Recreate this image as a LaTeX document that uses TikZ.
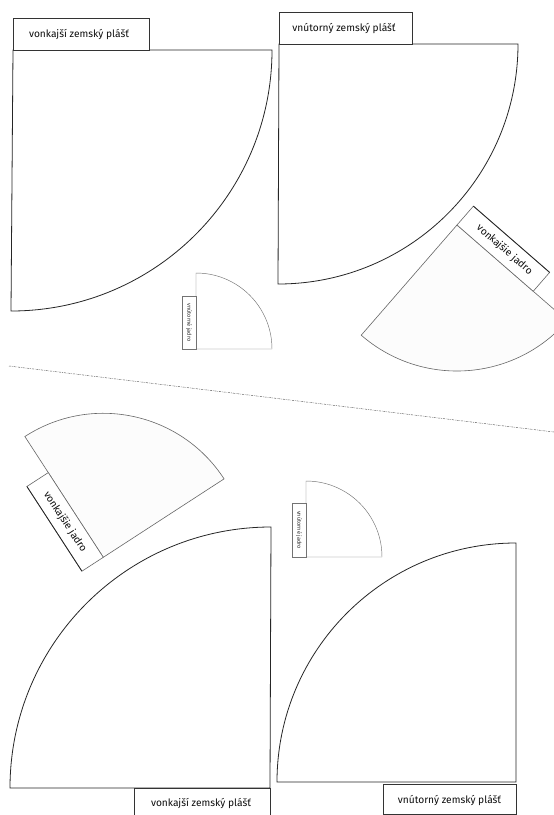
\documentclass[tikz,border=0pt]{standalone}
\usepackage{fontspec}
\setmainfont{Fira Sans}
\usetikzlibrary{calc}
\begin{document}
\begin{tikzpicture}[x=1pt,y=-1pt,
  bigpiece/.style={draw=black!85,line width=0.8pt,fill=white},
  biglabel/.style={draw=black!80,line width=0.8pt,fill=white},
  smallpiece/.style={draw=black!55,line width=0.45pt,fill=white},
  jadro/.style={draw=black!60,line width=0.6pt,fill=black!1},
  lbl/.style={font=\fontsize{10.2}{12}\selectfont,text=black!95,inner sep=0pt},
  tinylbl/.style={font=\fontsize{5.6}{6}\selectfont,text=black!85,inner sep=0pt},
  cutline/.style={draw=black!60,line width=0.5pt,dash pattern=on 2pt off 1pt on 0.6pt off 1pt}]
\useasboundingbox (0,0) rectangle (554,815);
\fill[white] (0,0) rectangle (554,815);

% cut line
\coordinate (cutA) at (9,366);
\coordinate (cutB) at (554,432);
\draw[cutline] (cutA) -- (cutB);

% ---------- top left: vonkajsi zemsky plast ----------
\coordinate (c1) at (13,50);
\draw[bigpiece] (c1) -- ++(0:259) arc[start angle=0,end angle=90,radius=261] -- cycle;
\draw[biglabel] (13,18) rectangle (149,50);
\node[lbl] (l1) at (79,34) {vonkajší zemský plášť};

% ---------- top right: vnutorny zemsky plast ----------
\coordinate (c2) at (279,44);
\draw[bigpiece] (c2) -- ++(0:239) arc[start angle=0,end angle=90,radius=240] -- cycle;
\draw[biglabel] (279,12) rectangle (412,44);
\node[lbl] (l2) at (344,28) {vnútorný zemský plášť};

% ---------- small top: vnutorne jadro ----------
\coordinate (c3) at (196,349);
\draw[smallpiece] (c3) -- ++(-90:76) arc[start angle=-90,end angle=0,radius=76] -- cycle;
\draw[smallpiece] (182,296) rectangle (196,349);
\node[tinylbl,rotate=-90] (l3) at (189,322.5) {vnútorné jadro};

% ---------- small bottom: vnutorne jadro ----------
\coordinate (c4) at (306,557);
\draw[smallpiece] (c4) -- ++(-90:76) arc[start angle=-90,end angle=0,radius=76] -- cycle;
\draw[smallpiece] (292,503) rectangle (306,557);
\node[tinylbl,rotate=-90] (l4) at (299,530) {vnútorné jadro};

% ---------- top right rotated: vonkajsie jadro ----------
\coordinate (A) at (457,225);
\draw[jadro] (A) -- ++(131:146) arc[start angle=131,end angle=41,radius=146] -- cycle;
\coordinate (A1) at ($(A)+(41:101)$);
\coordinate (A2) at ($(A)+(-49:25)$);
\coordinate (A3) at ($(A1)+(-49:25)$);
\draw[jadro,fill=white] (A) -- (A1) -- (A3) -- (A2) -- cycle;
\draw[black!85,line width=0.8pt] (A2) -- (A3);
\node[lbl,rotate=-41] (l5) at ($(A)+(41:52)+(-49:12.5)$) {vonkajšie jadro};

% ---------- bottom left rotated: vonkajsie jadro ----------
\coordinate (B) at (103.3,557.3);
\draw[jadro] (B) -- ++(-123:144) arc[start angle=-123,end angle=-33,radius=144] -- cycle;
\coordinate (B1) at ($(B)+(-123:101)$);
\coordinate (B2) at ($(B)+(147:25.5)$);
\coordinate (B3) at ($(B1)+(147:25.5)$);
\draw[jadro,fill=white] (B) -- (B1) -- (B3) -- (B2) -- cycle;
\draw[black!85,line width=0.8pt] (B3) -- (B2);
\node[lbl,rotate=-57] (l6) at ($(B)+(-123:50.5)+(147:12.75)$) {vonkajšie jadro};

% ---------- bottom left: vonkajsi zemsky plast ----------
\coordinate (c5) at (270,788);
\draw[bigpiece] (c5) -- ++(180:260) arc[start angle=180,end angle=270,radius=261] -- cycle;
\draw[biglabel] (134,788) rectangle (270,822);
\node[lbl] (l7) at (201,803) {vonkajší zemský plášť};

% ---------- bottom right: vnutorny zemsky plast ----------
\coordinate (c6) at (516,782);
\draw[bigpiece] (c6) -- ++(180:239) arc[start angle=180,end angle=270,radius=239] -- cycle;
\draw[biglabel] (383,784) rectangle (516,814);
\node[lbl] (l8) at (449.5,800) {vnútorný zemský plášť};
\end{tikzpicture}
\end{document}
